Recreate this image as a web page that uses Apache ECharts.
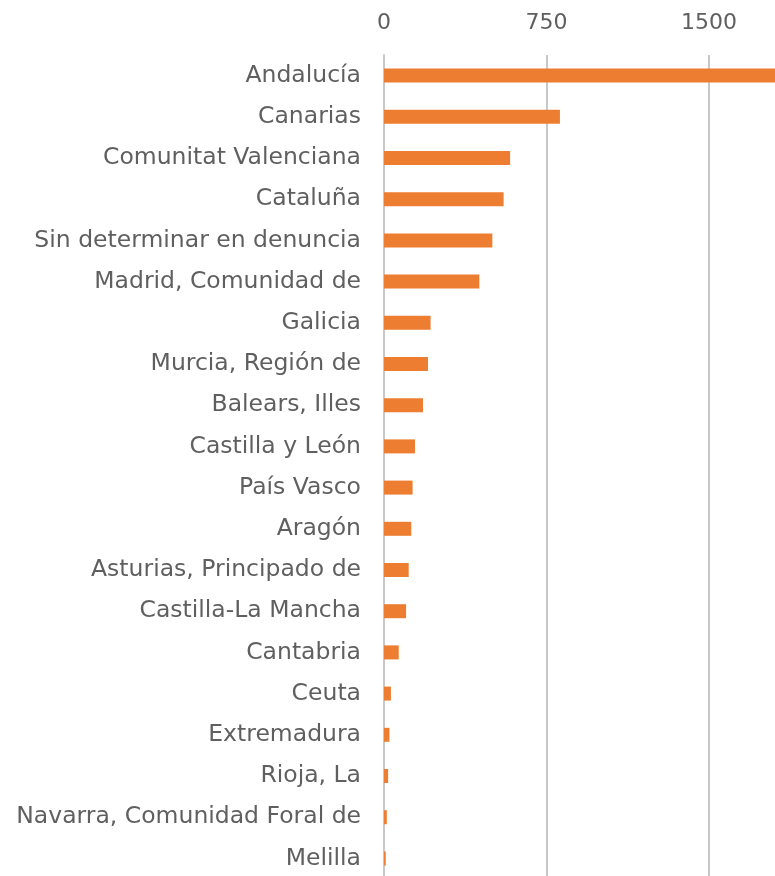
<!DOCTYPE html>
<html>
<head>
<meta charset="utf-8">
<script src="https://cdn.jsdelivr.net/npm/echarts@6/dist/echarts.min.js"></script>
<style>
html,body{margin:0;padding:0;background:#fff;}
#main{width:775px;height:876px;}
</style>
</head>
<body>
<div id="main"></div>
<script>
var regiones = ["Andalucía","Canarias","Comunitat Valenciana","Cataluña","Sin determinar en denuncia",
	"Madrid, Comunidad de","Galicia","Murcia, Región de","Balears, Illes","Castilla y León",
	"País Vasco","Aragón","Asturias, Principado de","Castilla-La Mancha","Cantabria",
	"Ceuta","Extremadura","Rioja, La","Navarra, Comunidad Foral de","Melilla"];
var valores = [1950,812,582,552,500,440,215,203,180,143,132,126,114,102,68,32,25,19,13,8];
var ticks = [0,750,1500,2250];

var myChart = echarts.init(document.getElementById('main'));
var option = {
	animation:false,
	grid:{left:384,top:55,width:487.5,height:824,containLabel:false,outerBoundsMode:'none'},
	xAxis:{
		type:'value',
		position:'top',
		min:ticks[0],
		max:ticks[ticks.length-1],
		interval:750,
		axisLine:{show:false},
		axisTick:{show:false},
		axisLabel:{color:'#5f5f5f',fontSize:22,fontFamily:'DejaVu Sans',margin:21,
			formatter:function(v){return String(v);}},
		splitLine:{show:true,lineStyle:{color:'#c8c8c8',width:2}}
	},
	yAxis:{
		type:'category',
		inverse:true,
		data:regiones,
		axisLine:{show:true,lineStyle:{color:'#c8c8c8',width:2}},
		axisTick:{show:false},
		axisLabel:{color:'#5f5f5f',fontSize:23.5,fontFamily:'DejaVu Sans',margin:23}
	},
	series:[{
		type:'bar',
		data:valores,
		barWidth:14,
		itemStyle:{color:'#ED7D31'}
	}]
};
myChart.setOption(option);
</script>
</body>
</html>
